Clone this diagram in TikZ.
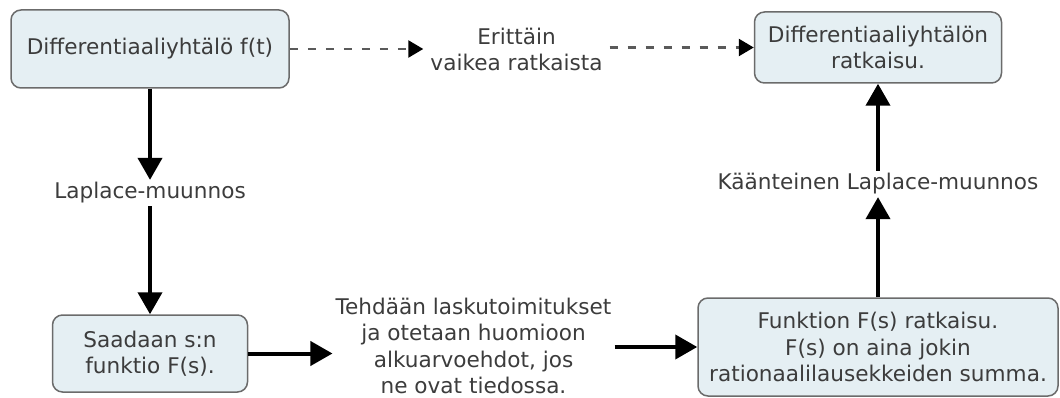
\documentclass[tikz,border=0pt]{standalone}
\usepackage{fontspec}
\setmainfont{DejaVu Sans}
\usetikzlibrary{arrows.meta}
\definecolor{boxfill}{HTML}{E5EFF3}
\definecolor{boxline}{HTML}{6B6B6B}
\definecolor{txt}{HTML}{3C3C3C}
\definecolor{dashcol}{HTML}{5A5A5A}
\begin{document}
\begin{tikzpicture}[x=1pt,y=-1pt,
  every node/.style={font=\fontsize{21.6}{26.3}\selectfont, text=txt, align=center},
  box/.style={draw=boxline, line width=1.5pt, fill=boxfill, rounded corners=10pt, inner sep=0pt},
  lbl/.style={inner xsep=3pt, inner ysep=2.5pt},
  arr/.style={line width=4pt, -{Triangle[length=22pt,width=24pt]}},
  darr/.style={line width=2.5pt, draw=dashcol, dash pattern=on 8pt off 10pt,
               -{Triangle[length=15pt,width=17pt,color=black]}}]
\useasboundingbox (0,0) rectangle (1060,398);

% boxes
\node[box, minimum width=278pt, minimum height=78pt] (A) at (150,49) {Differentiaaliyhtälö f(t)};
\node[box, minimum width=247pt, minimum height=71pt] (B) at (878,47.5) {Differentiaaliyhtälön\\ratkaisu.};
\node[box, minimum width=195pt, minimum height=77pt] (C) at (150,353.5) {Saadaan s:n\\funktio F(s).};
\node[box, minimum width=360pt, minimum height=98pt] (D) at (878,347) {Funktion F(s) ratkaisu.\\F(s) on aina jokin\\rationaalilausekkeiden summa.};

% free-standing labels
\node[lbl, inner xsep=7pt] (E) at (516.5,49.5) {Erittäin\\vaikea ratkaista};
\node[lbl] (L) at (150,193) {Laplace-muunnos};
\node[lbl] (T) at (473.5,346) {Tehdään laskutoimitukset\\ja otetaan huomioon\\alkuarvoehdot, jos\\ne ovat tiedossa.};
\node[lbl] (K) at (878,184) {Käänteinen Laplace-muunnos};

% connectors
\draw[darr] (A.east) -- (A.east -| E.west);
\draw[darr] (E.east |- B.west) -- (B.west);
\draw[arr] (A.south) -- (L.north);
\draw[arr] (L.south) -- (C.north);
\draw[arr] (C.east) -- (C.east -| T.west);
\draw[arr] (T.east |- D.west) -- (D.west);
\draw[arr] (D.north) -- (K.south);
\draw[arr] (K.north) -- (B.south);
\end{tikzpicture}
\end{document}
